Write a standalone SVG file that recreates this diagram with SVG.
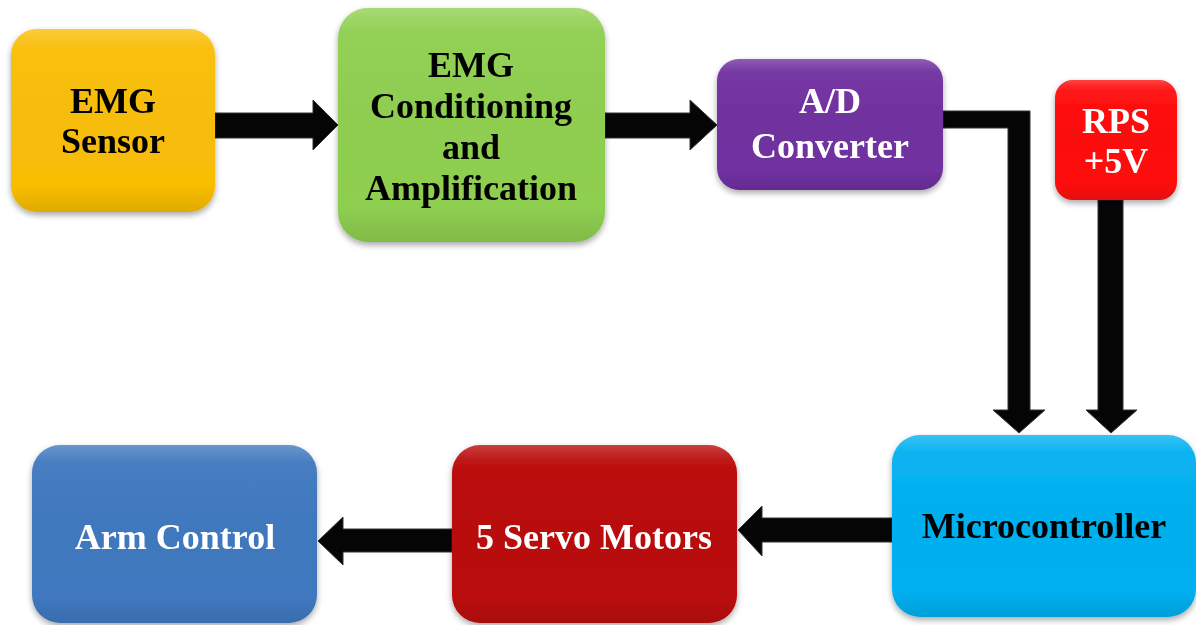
<svg xmlns="http://www.w3.org/2000/svg" width="1196" height="625" viewBox="0 0 1196 625">
<defs>
<linearGradient id="gloss" x1="0" y1="0" x2="0" y2="1">
<stop offset="0" stop-color="#fff" stop-opacity="0.22"/>
<stop offset="0.1" stop-color="#fff" stop-opacity="0.04"/>
<stop offset="0.85" stop-color="#000" stop-opacity="0"/>
<stop offset="1" stop-color="#000" stop-opacity="0.1"/>
</linearGradient>
<filter id="sh" x="-10%" y="-10%" width="120%" height="125%">
<feGaussianBlur in="SourceAlpha" stdDeviation="3"/>
<feOffset dx="0" dy="3" result="b"/>
<feComponentTransfer><feFuncA type="linear" slope="0.35"/></feComponentTransfer>
<feMerge><feMergeNode/><feMergeNode in="SourceGraphic"/></feMerge>
</filter>
</defs>
<style>
.t{font-family:"Liberation Serif","Times New Roman",serif;font-weight:bold;font-size:36px;text-anchor:middle}
.b{fill:#000}.w{fill:#fff}
.arr{fill:#050505;stroke:#333;stroke-width:1}
</style>
<rect width="1196" height="625" fill="#fff"/>
<g id="connectors">
<polygon class="arr" points="215,113 313,113 313,100 338,125 313,150 313,138 215,138"/>
<polygon class="arr" points="605,113 690,113 690,100 717,125 690,150 690,138 605,138"/>
<polygon class="arr" points="943,111 1030,111 1030,410 1045,410 1019,433 993,410 1008,410 1008,128 943,128"/>
<polygon class="arr" points="1098,200 1123,200 1123,410 1137,410 1111,433 1086,410 1098,410"/>
<polygon class="arr" points="892,518 762,518 762,506 738,530 762,556 762,542 892,542"/>
<polygon class="arr" points="452,529 343,529 343,517 318,541 343,565 343,552 452,552"/>
</g>
<g id="emg-sensor" filter="url(#sh)">
<rect x="11" y="29" width="204" height="183" rx="26" fill="#F9BE06"/>
<rect x="11" y="29" width="204" height="183" rx="26" fill="url(#gloss)"/>
<text class="t b" x="113" y="113">EMG</text>
<text class="t b" x="113" y="153">Sensor</text>
</g>
<g id="emg-conditioning" filter="url(#sh)">
<rect x="338" y="8" width="267" height="234" rx="30" fill="#8FCF50"/>
<rect x="338" y="8" width="267" height="234" rx="30" fill="url(#gloss)"/>
<text class="t b" x="471" y="77">EMG</text>
<text class="t b" x="471" y="118">Conditioning</text>
<text class="t b" x="471" y="159">and</text>
<text class="t b" x="471" y="200">Amplification</text>
</g>
<g id="ad-converter" filter="url(#sh)">
<rect x="717" y="59" width="226" height="131" rx="22" fill="#7030A0"/>
<rect x="717" y="59" width="226" height="131" rx="22" fill="url(#gloss)"/>
<text class="t w" x="830" y="113">A/D</text>
<text class="t w" x="830" y="158">Converter</text>
</g>
<g id="rps" filter="url(#sh)">
<rect x="1055" y="80" width="122" height="120" rx="18" fill="#FF0A0A"/>
<rect x="1055" y="80" width="122" height="120" rx="18" fill="url(#gloss)"/>
<text class="t w" x="1116" y="133">RPS</text>
<text class="t w" x="1116" y="173">+5V</text>
</g>
<g id="microcontroller" filter="url(#sh)">
<rect x="892" y="435" width="304" height="182" rx="28" fill="#00B0F0"/>
<rect x="892" y="435" width="304" height="182" rx="28" fill="url(#gloss)"/>
<text class="t b" x="1044" y="538">Microcontroller</text>
</g>
<g id="servo-motors" filter="url(#sh)">
<rect x="452" y="445" width="285" height="178" rx="28" fill="#BA0808"/>
<rect x="452" y="445" width="285" height="178" rx="28" fill="url(#gloss)"/>
<text class="t w" x="594" y="549">5 Servo Motors</text>
</g>
<g id="arm-control" filter="url(#sh)">
<rect x="32" y="445" width="285" height="178" rx="28" fill="#3F78BF"/>
<rect x="32" y="445" width="285" height="178" rx="28" fill="url(#gloss)"/>
<text class="t w" x="175" y="549">Arm Control</text>
</g>
</svg>
